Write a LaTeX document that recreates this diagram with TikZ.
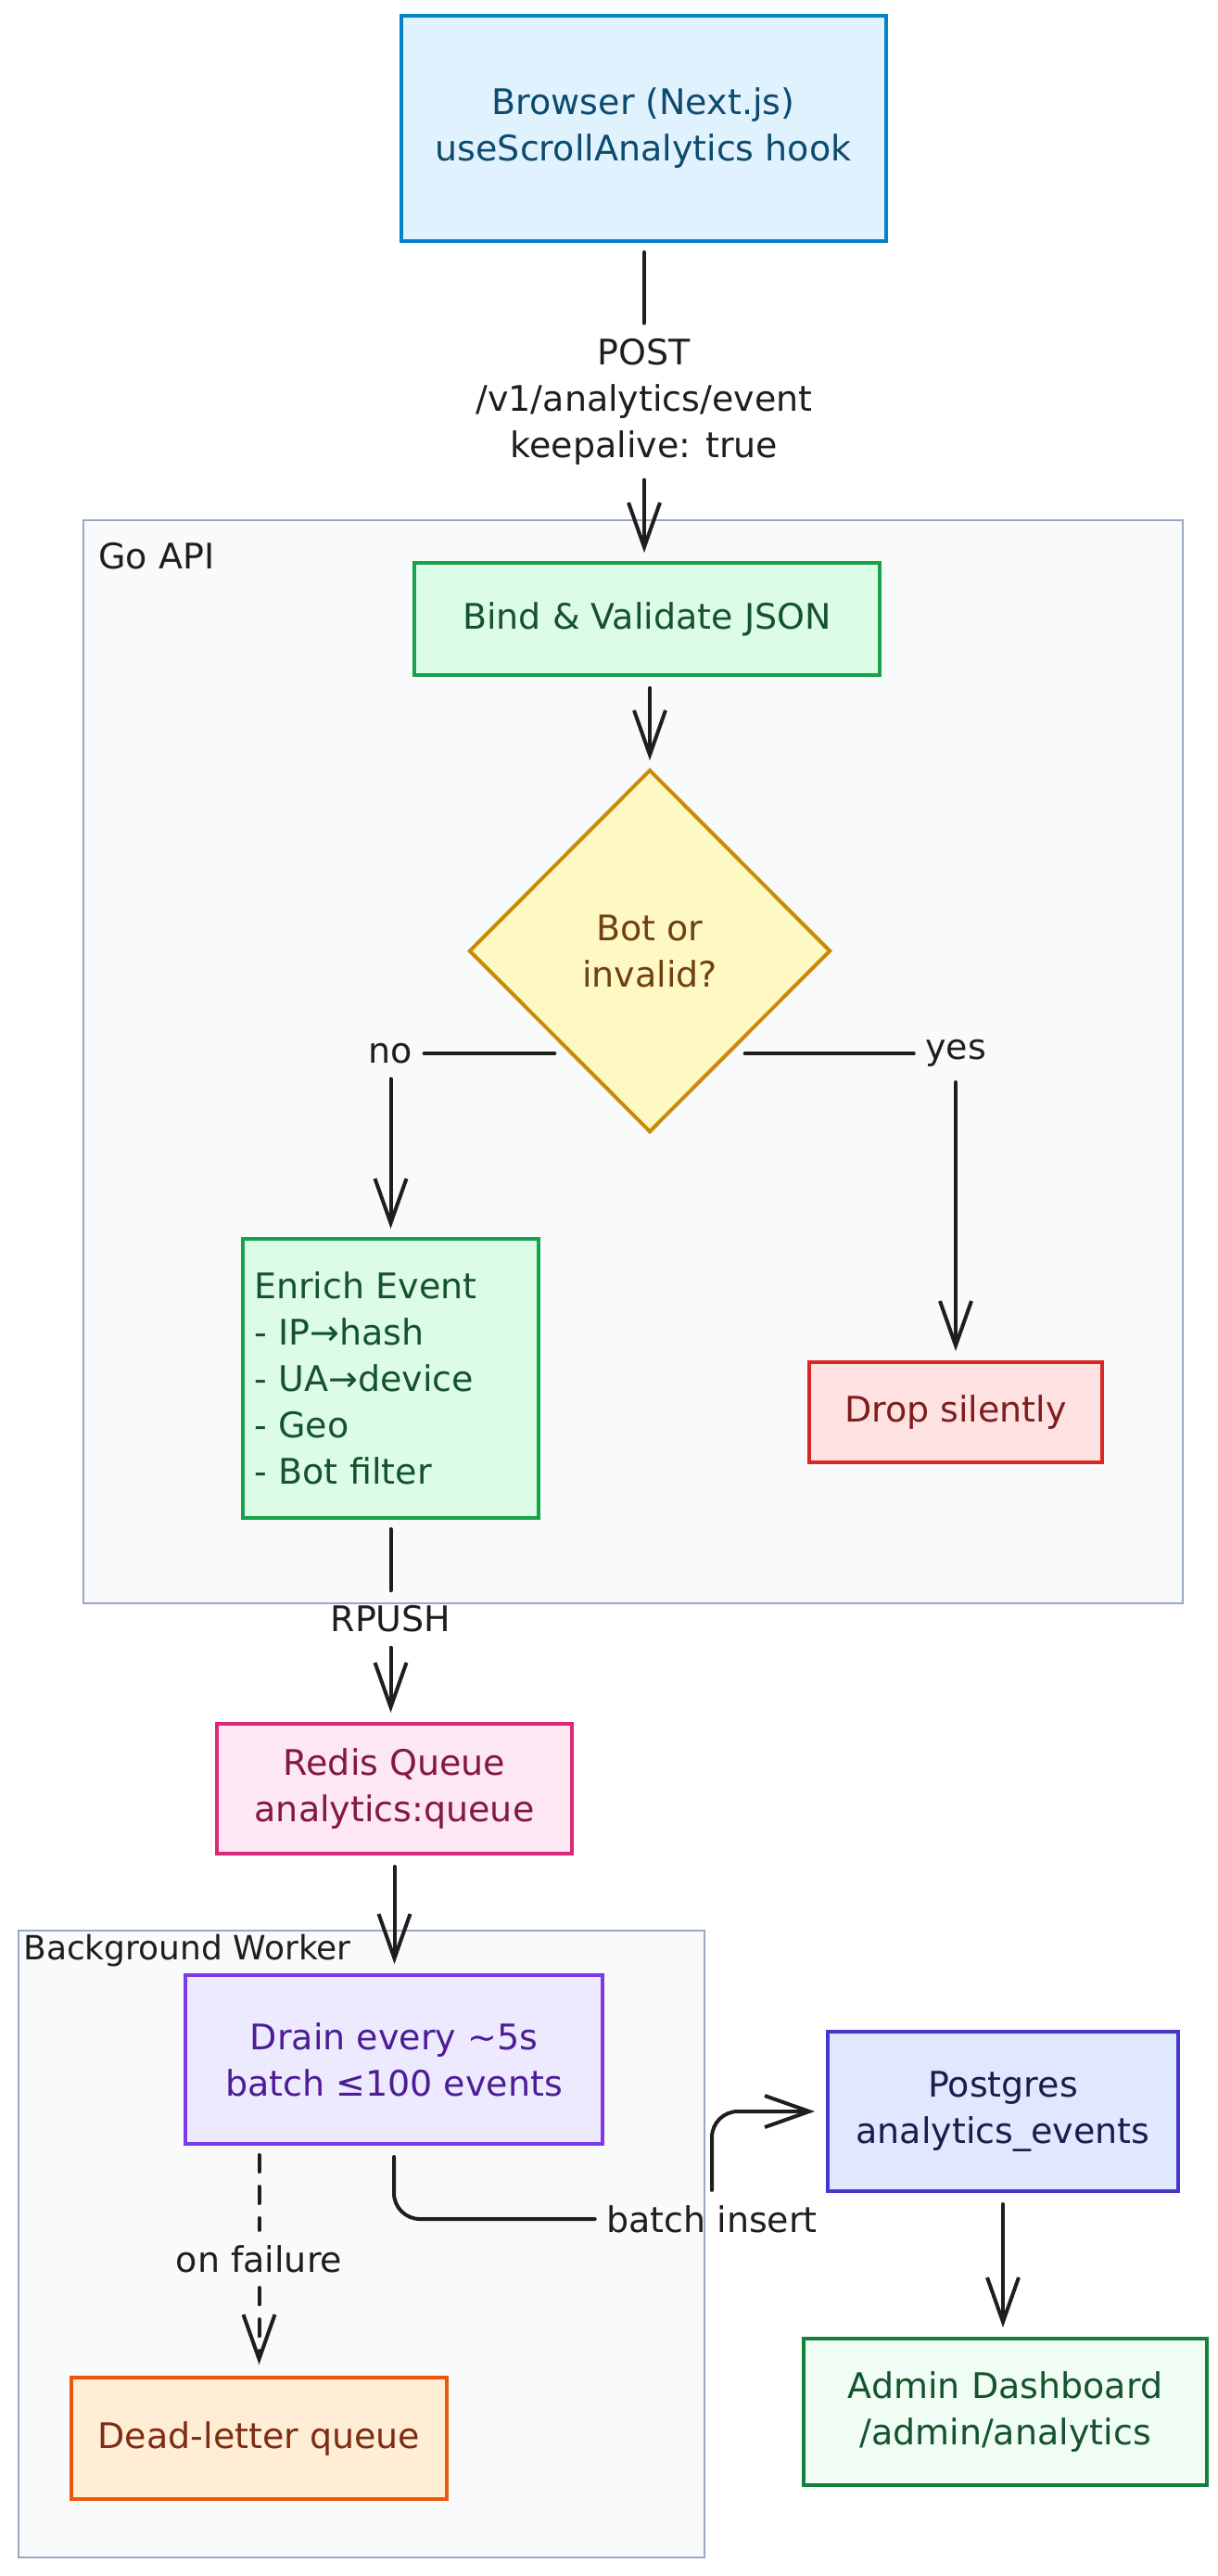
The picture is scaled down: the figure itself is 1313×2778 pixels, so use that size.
\documentclass[tikz,border=0pt]{standalone}
\usepackage{fontspec}
\setmainfont{DejaVu Sans}
\usetikzlibrary{arrows.meta,shapes.geometric,calc}
\definecolor{ink}{HTML}{1E1E1E}
\definecolor{contfill}{HTML}{F8FAFC}
\definecolor{contline}{HTML}{9AA8C0}
\definecolor{skyF}{HTML}{E0F2FE}\definecolor{skyD}{HTML}{0284C7}\definecolor{skyT}{HTML}{0C4A6E}
\definecolor{grnF}{HTML}{DCFCE7}\definecolor{grnD}{HTML}{16A34A}\definecolor{grnT}{HTML}{14532D}
\definecolor{yelF}{HTML}{FEF9C3}\definecolor{yelD}{HTML}{CA8A04}\definecolor{yelT}{HTML}{713F12}
\definecolor{redF}{HTML}{FEE2E2}\definecolor{redD}{HTML}{DC2626}\definecolor{redT}{HTML}{7F1D1D}
\definecolor{pnkF}{HTML}{FCE7F3}\definecolor{pnkD}{HTML}{DB2777}\definecolor{pnkT}{HTML}{831843}
\definecolor{vioF}{HTML}{EDE9FE}\definecolor{vioD}{HTML}{7C3AED}\definecolor{vioT}{HTML}{4C1D95}
\definecolor{orgF}{HTML}{FFEDD5}\definecolor{orgD}{HTML}{EA580C}\definecolor{orgT}{HTML}{7C2D12}
\definecolor{indF}{HTML}{E0E7FF}\definecolor{indD}{HTML}{4338CA}\definecolor{indT}{HTML}{1E1B4B}
\definecolor{admF}{HTML}{F0FDF4}\definecolor{admD}{HTML}{15803D}\definecolor{admT}{HTML}{14532D}
\begin{document}
\begin{tikzpicture}[x=0.5pt,y=-0.5pt,
  txt/.style={font=\fontsize{19pt}{25pt}\selectfont, align=center},
  box/.style={txt, rectangle, draw, line width=2pt, inner sep=0pt},
  cont/.style={rectangle, draw=contline, fill=contfill, line width=1.1pt, inner sep=0pt},
  lbl/.style={txt, text=ink, inner xsep=6pt, inner ysep=8pt},
  conn/.style={draw=ink, line width=2pt, line cap=round},
  arr/.style={conn, -{Straight Barb[length=24pt,width=17pt]}},
  dsh/.style={dash pattern=on 9pt off 8pt}
]
\useasboundingbox (0,0) rectangle (1313,2778);

% containers
\node[cont, minimum width=593pt, minimum height=584pt] (goapi) at (683,1145) {};
\node[txt, anchor=west, text=ink, inner sep=0pt] (goapilbl) at (106,600) {Go API};
\node[cont, minimum width=370pt, minimum height=338pt] (bgw) at (390,2420) {};
\node[anchor=west, text=ink, inner sep=0pt, font=\fontsize{18pt}{22pt}\selectfont] (bgwlbl) at (25,2104) {Background Worker};

% nodes
\node[box, draw=skyD, fill=skyF, text=skyT, minimum width=261.5pt, minimum height=121.5pt] (browser) at (694,138.5) {Browser (Next.js)\\useScrollAnalytics hook};
\node[box, draw=grnD, fill=grnF, text=grnT, minimum width=251pt, minimum height=60.5pt] (bind) at (698,667.5) {Bind \& Validate JSON};
\node[txt, diamond, draw=yelD, fill=yelF, text=yelT, line width=2pt, inner sep=0pt, minimum width=195pt, minimum height=195.5pt] (dia) at (701,1025.5) {Bot or\\invalid?};
\node[box, draw=grnD, fill=grnF, text=grnT, align=left, text width=147.5pt, inner xsep=6pt, minimum height=150.5pt] (enrich) at (421.5,1486.5) {Enrich Event\\- IP→hash\\- UA→device\\- Geo\\- Bot filter};
\node[box, draw=redD, fill=redF, text=redT, minimum width=158pt, minimum height=54pt] (drop) at (1031,1523) {Drop silently};
\node[box, draw=pnkD, fill=pnkF, text=pnkT, minimum width=191.5pt, minimum height=70pt] (redis) at (425.5,1929) {Redis Queue\\analytics:queue};
\node[box, draw=vioD, fill=vioF, text=vioT, minimum width=225pt, minimum height=91pt] (drain) at (425,2221) {Drain every \textasciitilde5s\\batch ≤100 events};
\node[box, draw=orgD, fill=orgF, text=orgT, minimum width=202.5pt, minimum height=65.5pt] (dlq) at (279.5,2629.5) {Dead-letter queue};
\node[box, draw=indD, fill=indF, text=indT, minimum width=189pt, minimum height=86pt] (pg) at (1082,2277) {Postgres\\analytics\_events};
\node[box, draw=admD, fill=admF, text=admT, minimum width=217.5pt, minimum height=79pt] (admin) at (1084.5,2601) {Admin Dashboard\\/admin/analytics};

% labels
\node[lbl] (post) at (695,433) {POST\\/v1/analytics/event\\keepalive: true};
\coordinate (nostart) at ($(dia.west)!0.56!(dia.south)$);
\coordinate (yesstart) at ($(dia.east)!0.56!(dia.south)$);
\node[lbl] (nolbl) at (nostart -| enrich.north) {no};
\node[lbl] (yeslbl) at (yesstart -| drop.north) {yes};
\node[lbl] (rpush) at (421.5,1746) {RPUSH};
\node[lbl] (onfail) at (279.5,2436) {on failure};
\node[lbl] (bi) at (768,2393) {batch insert};

% connectors
\draw[conn, shorten <=5pt] (browser.south -| post.north) -- (post.north);
\draw[arr, shorten >=4.5pt] (post.south) -- (post.south |- bind.north);
\draw[arr, shorten <=6pt, shorten >=4pt] (bind.south -| dia.north) -- (dia.north);
\draw[conn, shorten <=8pt] (nostart) -- (nolbl.east);
\draw[arr, shorten >=4.5pt] (nolbl.south) -- (enrich.north);
\draw[conn, shorten <=8pt] (yesstart) -- (yeslbl.west);
\draw[arr, shorten >=5pt] (yeslbl.south) -- (drop.north);
\draw[conn, shorten <=5pt] (enrich.south) -- (rpush.north);
\draw[arr, shorten >=5pt] (rpush.south) -- (rpush.south |- redis.north);
\draw[arr, shorten <=6pt, shorten >=5pt] (redis.south) -- (redis.south |- drain.north);
\draw[conn, dsh, shorten <=5pt] (dlq.north |- drain.south) -- (onfail.north);
\draw[arr, dsh, shorten >=6pt] (onfail.south) -- (dlq.north);
\draw[conn, rounded corners=14pt, shorten <=6pt] (drain.south) |- (bi.west);
\draw[arr, rounded corners=14pt, shorten >=6pt] (bi.north) |- (pg.west);
\draw[arr, shorten <=6pt, shorten >=5pt] (pg.south) -- (pg.south |- admin.north);
\end{tikzpicture}
\end{document}
